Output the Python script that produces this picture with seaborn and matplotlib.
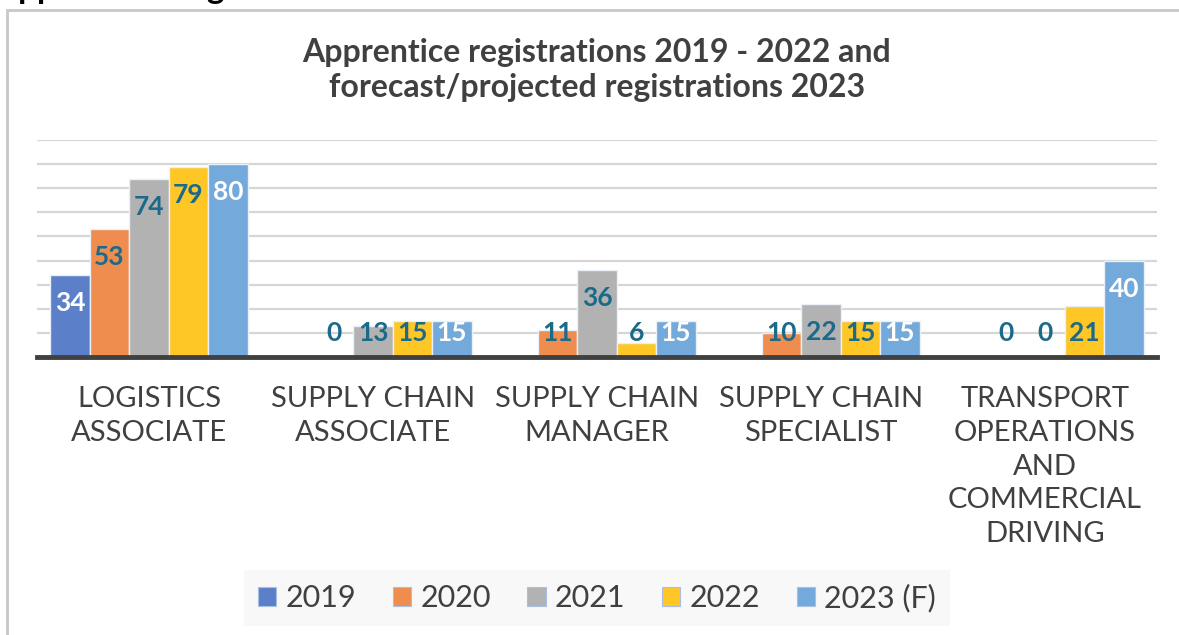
#!/usr/bin/env python3

import pandas as pd
import matplotlib.pyplot as plt
import matplotlib.patches as mpatches
import seaborn as sns
import numpy as np

# Dados
categories = ['LOGISTICS\nASSOCIATE', 'SUPPLY CHAIN\nASSOCIATE', 'SUPPLY CHAIN\nMANAGER',
              'SUPPLY CHAIN\nSPECIALIST', 'TRANSPORT\nOPERATIONS\nAND\nCOMMERCIAL\nDRIVING']
years = ['2019', '2020', '2021', '2022', '2023 (F)']
v2019 = [34, np.nan, np.nan, np.nan, np.nan]
v2020 = [53, 0, 11, 10, 0]
v2021 = [74, 13, 36, 22, 0]
v2022 = [79, 15, 6, 15, 21]
v2023 = [80, 15, 15, 15, 40]

colors = ['#5B80C9', '#EE8D4E', '#B2B2B2', '#FFC726', '#74A9DB']
label_colors = ['white', '#1B6A8A', '#1B6A8A', '#1B6A8A', 'white']
text_gray = '#404040'

sns.set_theme(style='white')
plt.rcParams['font.family'] = ['Lato', 'DejaVu Sans']

rows = []
for year, vals in zip(years, [v2019, v2020, v2021, v2022, v2023]):
    for cat, v in zip(categories, vals):
        rows.append({'category': cat, 'year': year, 'value': v})
df = pd.DataFrame(rows).dropna()

W, H = 1179, 635
fig = plt.figure(figsize=(W / 100, H / 100), dpi=100)
ax = fig.add_axes([37 / W, 1 - 357 / H, 1120 / W, 217 / H])

sns.barplot(data=df, x='category', y='value', hue='year', order=categories,
            hue_order=years, palette=colors, width=0.88, legend=False,
            edgecolor='#EAF0F8', linewidth=1.0, saturation=1, ax=ax, zorder=3)

ax.set_xlim(-0.5, 4.5)
ax.set_ylim(0, 90)
ax.set_yticks(np.arange(10, 91, 10))
ax.yaxis.grid(True, color='#D6D6D6', linewidth=1.6, zorder=0)
ax.set_axisbelow(True)
for s in ['top', 'right', 'left']:
    ax.spines[s].set_visible(False)
ax.spines['bottom'].set_color(text_gray)
ax.spines['bottom'].set_linewidth(3.5)
ax.spines['bottom'].set_zorder(5)
ax.tick_params(axis='y', left=False, labelleft=False)
ax.tick_params(axis='x', bottom=False, pad=15)
ax.set_xlabel('')
ax.set_ylabel('')
ax.set_xticks(range(len(categories)))
ax.set_xticklabels(categories, fontsize=21, color=text_gray, linespacing=1.37)

# Rótulos de valor
for container, lc in zip(ax.containers, label_colors):
    for bar in container:
        h = bar.get_height()
        if np.isnan(h):
            continue
        y = max(h - 11.7, 10)
        ax.text(bar.get_x() + bar.get_width() / 2, y, f'{h:.0f}', ha='center', va='center',
                fontsize=19, fontweight='bold', color=lc, zorder=6)

# Título
fig.text(597 / W, 1 - 70 / H,
         'Apprentice registrations 2019 - 2022 and\nforecast/projected registrations 2023',
         ha='center', va='center', fontsize=23, fontweight='bold', color=text_gray,
         linespacing=1.25)

# Título cortado no topo
fig.text(-0.004, 1 + 1.5 / H, 'Apprentice Registrations', ha='left', va='baseline',
         fontsize=24, fontweight='bold', color='black')

# Moldura
fig.patches.append(mpatches.Rectangle((7 / W, -0.02), 1.1, 1 - 10 / H + 0.02,
                                      transform=fig.transFigure, fill=False,
                                      edgecolor='#C8C8C8', linewidth=2))

# Legenda
handles = [mpatches.Patch(facecolor=c, edgecolor='#A9C0E4', linewidth=0.8) for c in colors]
leg = fig.legend(handles, years, loc='center', bbox_to_anchor=(597 / W, 1 - 598 / H),
                 ncol=5, frameon=True, fontsize=22, handlelength=0.6, handleheight=0.6,
                 handletextpad=0.3, columnspacing=1.2, borderpad=0.45, fancybox=False)
leg.get_frame().set_facecolor('#F7F7F7')
leg.get_frame().set_edgecolor('none')
for t in leg.get_texts():
    t.set_color(text_gray)

plt.savefig('out.png', dpi=100)
